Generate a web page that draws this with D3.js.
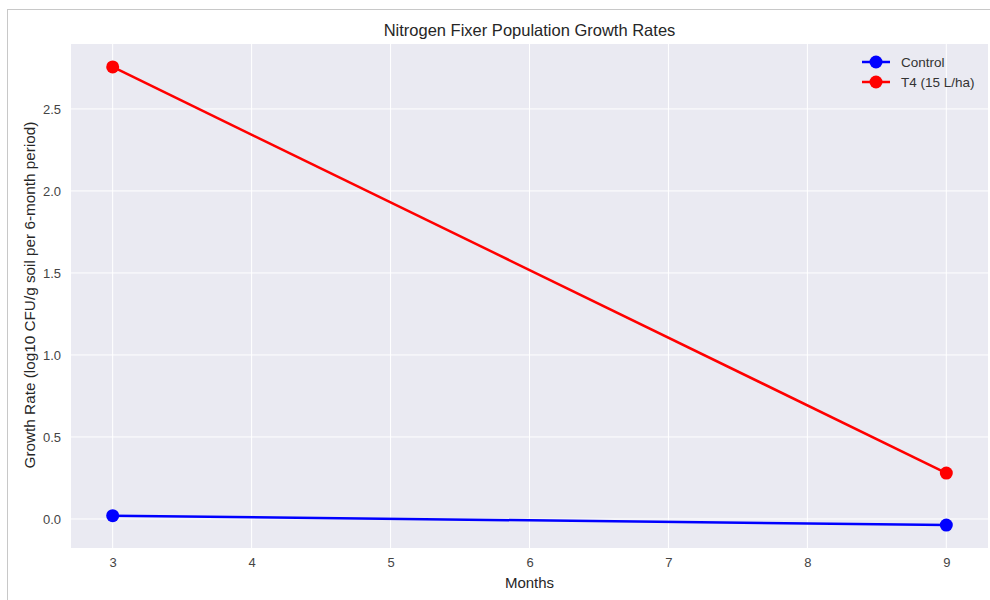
<!DOCTYPE html>
<html><head><meta charset="utf-8">
<script src="https://cdn.jsdelivr.net/npm/d3@7"></script>
<style>body{margin:0;background:#fff;font-family:"Liberation Sans",Arial,sans-serif;}</style>
</head><body>
<svg id="c" width="990" height="600"></svg>
<script>
const months = [3, 9];
const controlValues = [0.02, -0.037];
const t4Values = [2.756, 0.28];
const seriesNames = ["Control", "T4 (15 L/ha)"];
const seriesColors = ["#0000ff", "#ff0000"];
const xTicks = [3, 4, 5, 6, 7, 8, 9];
const yTicks = [0.0, 0.5, 1.0, 1.5, 2.0, 2.5];

const svg = d3.select("#c");
const m = {l: 71, t: 44, r: 988, b: 548};
svg.append("rect").attr("x", 7.5).attr("y", 9.5).attr("width", 990).attr("height", 600)
  .attr("fill", "none").attr("stroke", "#c8c8c8").attr("stroke-width", 1);

const x = d3.scaleLinear().domain([2.7, 9.3]).range([m.l, m.r]);
const y = d3.scaleLinear().domain([-0.177, 2.896]).range([m.b, m.t]);

svg.append("rect").attr("x", m.l).attr("y", m.t).attr("width", m.r - m.l).attr("height", m.b - m.t).attr("fill", "#eaeaf2");

const g = svg.append("g");
g.selectAll(".vx").data(xTicks).join("line").attr("x1", d => x(d)).attr("x2", d => x(d))
  .attr("y1", m.t).attr("y2", m.b).attr("stroke", "#fff").attr("stroke-width", 1);
g.selectAll(".hy").data(yTicks).join("line").attr("y1", d => y(d)).attr("y2", d => y(d))
  .attr("x1", m.l).attr("x2", m.r).attr("stroke", "#fff").attr("stroke-width", 1);

const xa = svg.append("g").attr("transform", `translate(0,${m.b})`)
  .call(d3.axisBottom(x).tickValues(xTicks).tickFormat(d3.format("d")).tickSize(0).tickPadding(10));
const ya = svg.append("g").attr("transform", `translate(${m.l},0)`)
  .call(d3.axisLeft(y).tickValues(yTicks).tickFormat(d3.format(".1f")).tickSize(0).tickPadding(10));
[xa, ya].forEach(a => {
  a.select(".domain").remove();
  a.selectAll("text").attr("font-family", "Liberation Sans, Arial, sans-serif").attr("font-size", 13).attr("fill", "#444");
});

const data = [controlValues, t4Values];
const line = d3.line().x((d, i) => x(months[i])).y(d => y(d));
data.forEach((vals, s) => {
  svg.append("path").datum(vals).attr("d", line).attr("fill", "none")
    .attr("stroke", seriesColors[s]).attr("stroke-width", 2.5);
  svg.selectAll(".p" + s).data(vals).join("circle")
    .attr("cx", (d, i) => x(months[i])).attr("cy", d => y(d)).attr("r", 6.5).attr("fill", seriesColors[s]);
});

// legend
seriesNames.forEach((n, i) => {
  const ly = 62 + i * 20;
  svg.append("line").attr("x1", 862).attr("x2", 890).attr("y1", ly).attr("y2", ly)
    .attr("stroke", seriesColors[i]).attr("stroke-width", 2.5);
  svg.append("circle").attr("cx", 876).attr("cy", ly).attr("r", 6.5).attr("fill", seriesColors[i]);
  svg.append("text").attr("x", 901).attr("y", ly + 5).text(n)
    .attr("font-size", 13.5).attr("fill", "#333");
});

svg.append("text").attr("x", (m.l + m.r) / 2).attr("y", 36).attr("text-anchor", "middle")
  .attr("font-size", 16.5).attr("fill", "#262626").text("Nitrogen Fixer Population Growth Rates");
svg.append("text").attr("x", (m.l + m.r) / 2).attr("y", 588).attr("text-anchor", "middle")
  .attr("font-size", 15).attr("fill", "#262626").text("Months");
svg.append("text").attr("transform", `translate(35,${(m.t + m.b) / 2 - 1}) rotate(-90)`).attr("text-anchor", "middle")
  .attr("font-size", 15.3).attr("fill", "#262626").text("Growth Rate (log10 CFU/g soil per 6-month period)");
</script>
</body></html>
